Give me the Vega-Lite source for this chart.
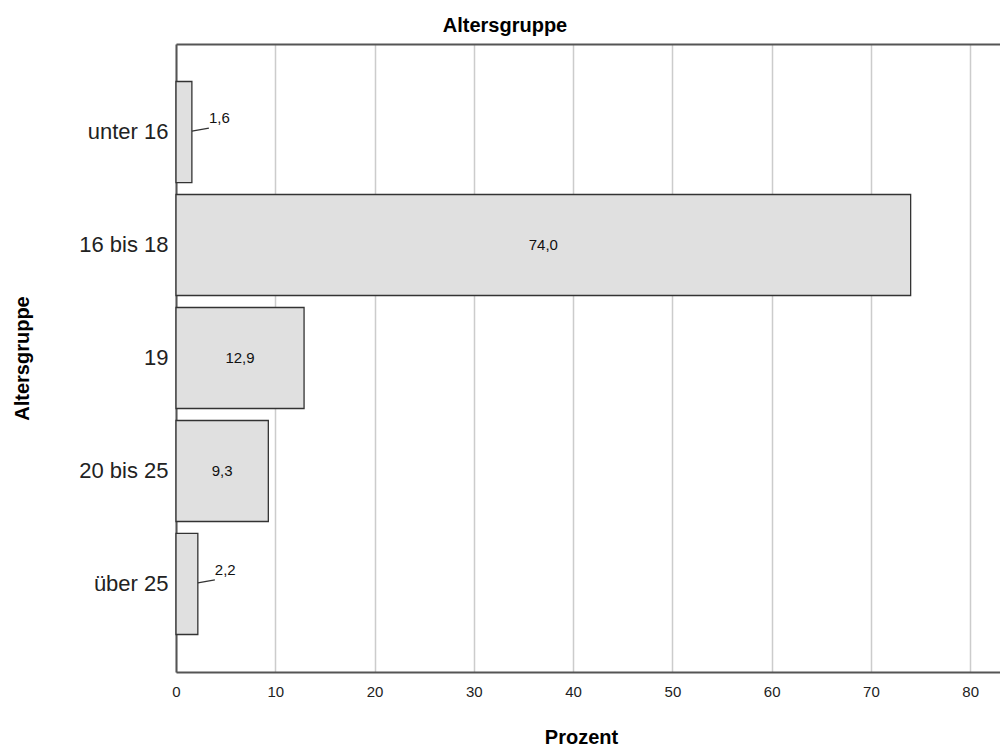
{
  "$schema": "https://vega.github.io/schema/vega-lite/v6.json",
  "width": 824,
  "height": 628,
  "autosize": "none",
  "padding": {"left": 176, "top": 44, "right": 0, "bottom": 75},
  "background": "white",
  "title": {"text": "Altersgruppe", "fontSize": 20, "fontWeight": "bold", "font": "Liberation Sans", "color": "#000000", "anchor": "middle", "dx": -83, "offset": 8},
  "data": {"values": [
    {"Altersgruppe": "unter 16", "Prozent": 1.6},
    {"Altersgruppe": "16 bis 18", "Prozent": 74.0},
    {"Altersgruppe": "19", "Prozent": 12.9},
    {"Altersgruppe": "20 bis 25", "Prozent": 9.3},
    {"Altersgruppe": "über 25", "Prozent": 2.2}
  ]},
  "config": {
    "locale": {"number": {"decimal": ",", "thousands": ".", "grouping": [3], "currency": ["", " €"]}},
    "view": {"stroke": null},
    "font": "Liberation Sans"
  },
  "layer": [
    {
      "encoding": {
        "y": {
          "field": "Altersgruppe", "type": "nominal",
          "sort": ["unter 16", "16 bis 18", "19", "20 bis 25", "über 25"],
          "scale": {"paddingInner": 0.106, "paddingOuter": 0.332},
          "axis": {"title": "Altersgruppe", "titleFontSize": 20, "titleFontWeight": "bold", "titleColor": "#000000", "titleX": -154, "titleBaseline": "middle", "labelFontSize": 22, "labelColor": "#222222", "labelPadding": 8, "ticks": false, "domainColor": "#555555", "domainWidth": 2, "grid": false}
        }
      },
      "layer": [
        {
          "mark": {"type": "bar", "fill": "#e0e0e0", "stroke": "#333333", "strokeWidth": 1.3},
          "encoding": {
            "x": {
              "field": "Prozent", "type": "quantitative",
              "scale": {"domain": [0, 83], "nice": false, "zero": true},
              "axis": {"title": "Prozent", "titleFontSize": 20, "titleFontWeight": "bold", "titleColor": "#000000", "titleX": 405, "titleY": 65, "titleBaseline": "middle", "labelFontSize": 15, "labelColor": "#222222", "labelPadding": 12, "ticks": false, "values": [0, 10, 20, 30, 40, 50, 60, 70, 80], "domainColor": "#555555", "domainWidth": 2, "grid": true, "gridColor": "#cccccc", "gridWidth": 1.5, "labelFlush": false}
            }
          }
        },
        {
          "transform": [{"filter": "datum.Prozent < 5"}],
          "mark": {"type": "rule", "color": "#333333", "strokeWidth": 1.3, "x2Offset": 17, "yOffset": -1, "y2Offset": -4},
          "encoding": {
            "x": {"field": "Prozent", "type": "quantitative"},
            "x2": {"field": "Prozent"},
            "y": {"field": "Altersgruppe", "type": "nominal", "bandPosition": 0.5},
            "y2": {"field": "Altersgruppe", "bandPosition": 0.5}
          }
        },
        {
          "transform": [{"filter": "datum.Prozent < 5"}],
          "mark": {"type": "text", "align": "left", "baseline": "middle", "dx": 17, "dy": -14, "fontSize": 15, "color": "#111111"},
          "encoding": {
            "x": {"field": "Prozent", "type": "quantitative"},
            "y": {"field": "Altersgruppe", "type": "nominal", "bandPosition": 0.5},
            "text": {"field": "Prozent", "type": "quantitative", "format": ".1f"}
          }
        }
      ]
    },
    {
      "transform": [{"filter": "datum.Prozent >= 5"}],
      "mark": {"type": "text", "align": "center", "baseline": "middle", "fontSize": 15, "color": "#111111"},
      "encoding": {
        "x": {
          "field": "Prozent", "type": "quantitative",
          "scale": {"domain": [0, 166], "nice": false, "zero": true},
          "axis": {"orient": "top", "title": null, "labels": false, "ticks": false, "grid": false, "domain": true, "domainColor": "#555555", "domainWidth": 2}
        },
        "y": {"field": "Altersgruppe", "type": "nominal", "sort": ["unter 16", "16 bis 18", "19", "20 bis 25", "über 25"], "bandPosition": 0.5},
        "text": {"field": "Prozent", "type": "quantitative", "format": ".1f"}
      }
    }
  ],
  "resolve": {"scale": {"x": "independent"}}
}
